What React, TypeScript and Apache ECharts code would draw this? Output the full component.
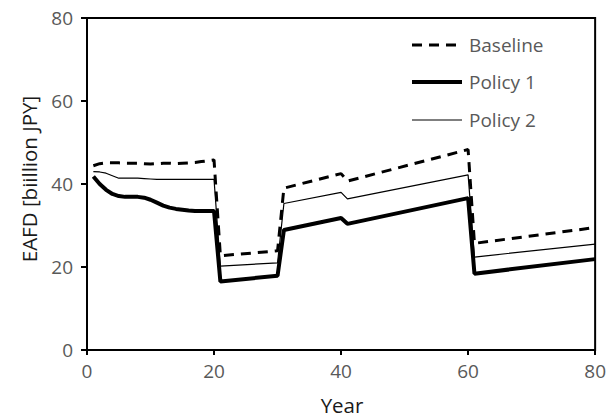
import React, { useEffect, useRef } from "react";
import * as echarts from "echarts";

const years = [1, 2, 3, 4, 5, 6, 7, 8, 9, 10, 11, 12, 13, 14, 15, 16, 17, 18, 19, 20, 21, 30, 31, 40, 41, 60, 61, 80];
const baseline = [44.4, 44.9, 45.1, 45.1, 45.1, 45.0, 45.0, 45.0, 44.9, 44.8, 44.9, 45.0, 45.0, 44.9, 45.0, 45.1, 45.2, 45.4, 45.6, 45.8, 22.7, 23.9, 39.0, 42.5, 40.7, 48.3, 25.7, 29.5];
const policy1 = [41.8, 40.0, 38.6, 37.6, 37.1, 36.9, 36.9, 36.9, 36.7, 36.2, 35.5, 34.8, 34.3, 34.0, 33.8, 33.6, 33.5, 33.5, 33.5, 33.5, 16.5, 17.9, 28.9, 31.8, 30.4, 36.6, 18.4, 21.9];
const policy2 = [43.0, 42.9, 42.6, 42.0, 41.4, 41.4, 41.4, 41.4, 41.3, 41.2, 41.1, 41.1, 41.1, 41.1, 41.1, 41.1, 41.1, 41.1, 41.1, 41.1, 20.2, 21.0, 35.3, 38.0, 36.4, 42.2, 22.4, 25.5];
const seriesNames = ["Baseline", "Policy 1", "Policy 2"];
const xAxisTitle = "Year";
const yAxisTitle = "EAFD [biillion JPY]";

const FONT = "'Open Sans', 'Noto Sans', sans-serif";
const TICK_COLOR = "#595959";

const lineStyles = [
  { color: "#000", width: 3, type: [10, 7] as number[] | "solid" },
  { color: "#000", width: 4, type: "solid" as number[] | "solid" },
  { color: "#000", width: 1.2, type: "solid" as number[] | "solid" },
];

export default function App() {
  const ref = useRef<HTMLDivElement>(null);
  useEffect(() => {
    if (!ref.current) return;
    const chart = echarts.init(ref.current, null, { renderer: "svg" });
    const toPts = (vals: number[]) => years.map((y, i) => [y, vals[i]]);
    const legendRows = [45, 82, 120];
    const legendGraphics: any[] = [];
    seriesNames.forEach((name, i) => {
      const ls = lineStyles[i];
      legendGraphics.push({
        type: "line",
        shape: { x1: 412, y1: legendRows[i], x2: 462, y2: legendRows[i] },
        style: { stroke: ls.color, lineWidth: ls.width, lineDash: ls.type === "solid" ? null : ls.type },
      });
      legendGraphics.push({
        type: "text",
        x: 469,
        y: legendRows[i],
        style: { text: name, fontFamily: FONT, fontSize: 19, fill: TICK_COLOR, align: "left", verticalAlign: "middle" },
      });
    });
    chart.setOption({
      animation: false,
      backgroundColor: "#ffffff",
      grid: {
        left: 87,
        right: 12,
        top: 18,
        bottom: 68,
        show: true,
        borderColor: "#000",
        borderWidth: 2,
      },
      xAxis: {
        type: "value",
        min: 0,
        max: 80,
        interval: 20,
        axisLine: { show: true, onZero: false, lineStyle: { color: "#000", width: 2 } },
        axisTick: { show: true, length: 5, lineStyle: { color: "#000", width: 2 } },
        splitLine: { show: false },
        axisLabel: { fontFamily: FONT, fontSize: 19, color: TICK_COLOR, margin: 11 },
      },
      yAxis: {
        type: "value",
        min: 0,
        max: 80,
        interval: 20,
        axisLine: { show: true, lineStyle: { color: "#000", width: 2 } },
        axisTick: { show: true, length: 6, lineStyle: { color: "#000", width: 2 } },
        splitLine: { show: false },
        axisLabel: { fontFamily: FONT, fontSize: 19, color: TICK_COLOR, margin: 14 },
      },
      graphic: [
        {
          type: "text",
          x: 29,
          y: 179,
          rotation: Math.PI / 2,
          style: { text: yAxisTitle, fontFamily: FONT, fontSize: 20.5, fill: "#1a1a1a", align: "center", verticalAlign: "middle" },
        },
        {
          type: "text",
          x: 342,
          y: 405,
          style: { text: xAxisTitle, fontFamily: FONT, fontSize: 20.5, fill: "#1a1a1a", align: "center", verticalAlign: "middle" },
        },
        ...legendGraphics,
      ],
      series: seriesNames.map((name, i) => ({
        name,
        type: "line",
        data: toPts([baseline, policy1, policy2][i]),
        showSymbol: false,
        symbol: "none",
        lineStyle: lineStyles[i],
        z: i === 0 ? 3 : 2,
      })),
    });
    return () => chart.dispose();
  }, []);
  return <div ref={ref} style={{ position: "absolute", left: 0, top: 0, width: 609, height: 418 }} />;
}
